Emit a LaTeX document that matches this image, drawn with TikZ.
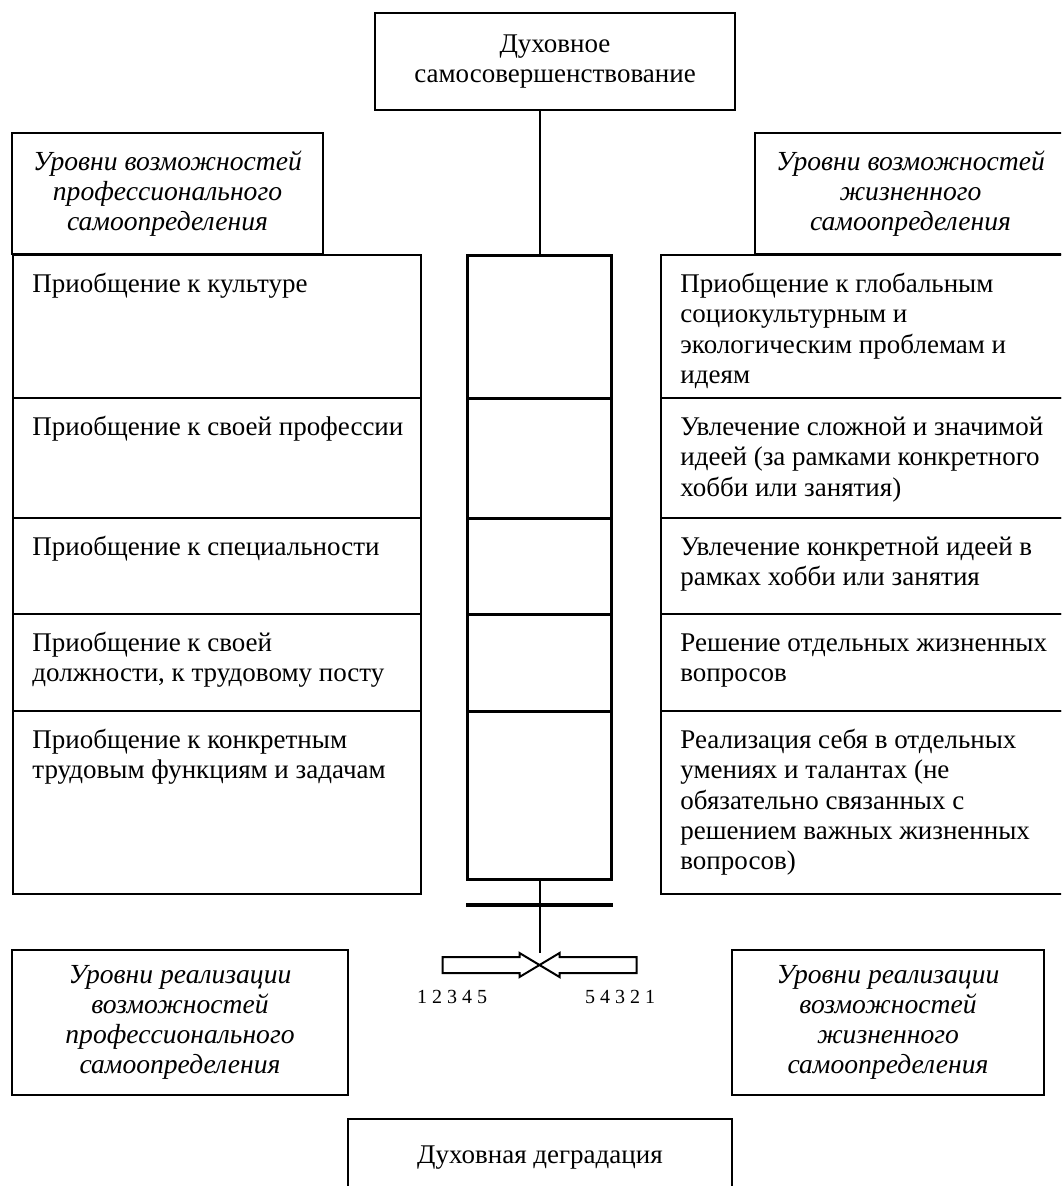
\documentclass[tikz,border=0pt]{standalone}
\usepackage{fontspec}
\setmainfont{Liberation Serif}
\usetikzlibrary{positioning}
\tikzset{
  box/.style={draw, line width=1pt, inner sep=0pt, align=center, font=\fontsize{13.5}{15.2}\selectfont},
  hdr/.style={box, font=\itshape\fontsize{13.8}{15}\selectfont},
  cell/.style={draw, line width=1pt, anchor=north west, inner sep=0pt},
  seg/.style={draw, line width=1.5pt, anchor=north west, inner sep=0pt, minimum width=72pt},
  celltext/.style={inner sep=0pt, align=left, font=\fontsize{13.5}{15.2}\selectfont},
  num/.style={inner sep=0pt, font=\fontsize{10}{12}\selectfont},
}
\begin{document}
\begin{tikzpicture}[x=1pt, y=1pt, line join=miter]
	\useasboundingbox (0,0) rectangle (530.5,-593);
	\clip (0,0) rectangle (530.5,-593);
	% top and headers
	\node[box, minimum width=180pt, minimum height=48.5pt] (top) at (277.5,-30.75) {Духовное\\самосовершенствование};
	\node[hdr, minimum width=155.5pt, minimum height=60.5pt] (hl) at (83.75,-96.75) {Уровни возможностей\\профессионального\\самоопределения};
	\node[hdr, minimum width=155.5pt, minimum height=60.5pt] (hr) at (455.25,-96.75) {Уровни возможностей\\жизненного\\самоопределения};
	% rows of both columns
	\foreach \t/\b/\lt/\rt [count=\i] in {
		127/198.5/{Приобщение к культуре}/{Приобщение к глобальным\\социокультурным и\\экологическим проблемам и\\идеям},
		198.5/258.5/{Приобщение к своей профессии}/{Увлечение сложной и значимой\\идеей (за рамками конкретного\\хобби или занятия)},
		258.5/306.5/{Приобщение к специальности}/{Увлечение конкретной идеей в\\рамках хобби или занятия},
		306.5/355/{Приобщение к своей\\должности, к трудовому посту}/{Решение отдельных жизненных\\вопросов},
		355/446.5/{Приобщение к конкретным\\трудовым функциям и задачам}/{Реализация себя в отдельных\\умениях и талантах (не\\обязательно связанных с\\решением важных жизненных\\вопросов)}}
	{
		\node[cell, minimum width=204pt, minimum height={(\b-\t)*1pt}] (l\i) at (6,-\t) {};
		\node[cell, minimum width=204pt, minimum height={(\b-\t)*1pt}] (r\i) at (330,-\t) {};
		\node[celltext, below right=8.3pt and 10pt of l\i.north west] (lt\i) {\strut\lt};
		\node[celltext, below right=8.3pt and 10pt of r\i.north west] (rt\i) {\strut\rt};
	}
	% central scale
	\foreach \t/\b [count=\i] in {127/198.5, 198.5/258.5, 258.5/306.5, 306.5/355, 355/439}
		\node[seg, minimum height={(\b-\t)*1pt}] (c\i) at (233,-\t) {};
	\draw[line width=1pt] (top.south -| c1.north) -- (c1.north);
	\coordinate (tip) at ([yshift=-42pt]c5.south);
	\draw[line width=1pt] (c5.south) -- ([yshift=6pt]tip);
	\draw[line width=2pt] ([yshift=-12pt]c5.south west) -- ([yshift=-12pt]c5.south east);
	% two arrows meeting
	\draw[line width=1pt] (tip) -- ++(-10,6) -- ++(0,-2) -- ++(-38.5,0) -- ++(0,-8) -- ++(38.5,0) -- ++(0,-2) -- cycle;
	\draw[line width=1pt] (tip) -- ++(10,6) -- ++(0,-2) -- ++(38.5,0) -- ++(0,-8) -- ++(-38.5,0) -- ++(0,-2) -- cycle;
	\node[num] (nl) at (226,-498.5) {1 2 3 4 5};
	\node[num] (nr) at (310,-498.5) {5 4 3 2 1};
	% bottom
	\node[hdr, minimum width=168pt, minimum height=72.5pt] (bl) at (90,-511.25) {Уровни реализации\\возможностей\\профессионального\\самоопределения};
	\node[hdr, minimum width=156pt, minimum height=72.5pt] (br) at (444,-511.25) {Уровни реализации\\возможностей\\жизненного\\самоопределения};
	\node[box, anchor=north, minimum width=192pt, minimum height=39pt] (down) at (270,-559) {Духовная деградация};
\end{tikzpicture}
\end{document}
